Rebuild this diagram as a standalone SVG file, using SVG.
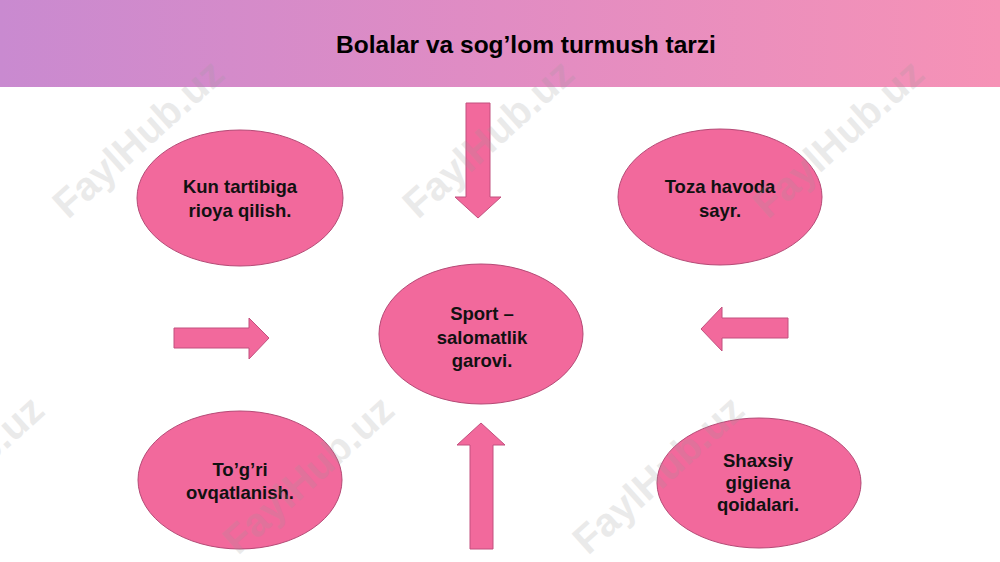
<svg xmlns="http://www.w3.org/2000/svg" width="1000" height="562" viewBox="0 0 1000 562">
  <defs>
    <linearGradient id="hdr" x1="0" y1="0" x2="1" y2="0">
      <stop offset="0" stop-color="#c98ad0"/>
      <stop offset="0.5" stop-color="#e18cc3"/>
      <stop offset="1" stop-color="#f692b6"/>
    </linearGradient>
  </defs>
  <style>
    .node { fill: #f2699c; stroke: #b54a76; stroke-width: 1; }
    .arrow { fill: #f2699c; stroke: #c2507e; stroke-width: 1; }
    .lbl { font-family: "Liberation Sans", Arial, sans-serif; font-weight: bold; font-size: 18.5px; fill: #111; text-anchor: middle; }
    .title { font-family: "Liberation Sans", Arial, sans-serif; font-weight: bold; font-size: 24.5px; fill: #000; text-anchor: middle; }
    .wm { font-family: "Liberation Sans", Arial, sans-serif; font-weight: bold; font-size: 40px; fill: #9a9a9a; opacity: 0.2; }
  </style>
  <rect x="0" y="0" width="1000" height="562" fill="#ffffff"/>
  <g id="header">
    <rect x="0" y="0" width="1000" height="87" fill="url(#hdr)"/>
    <text class="title" x="526" y="53">Bolalar va sog’lom turmush tarzi</text>
  </g>

  <g id="connectors">
    <path class="arrow" d="M466,103 L490,103 L490,197 L501,197 L478,218 L455,197 L466,197 Z"/>
    <path class="arrow" d="M470,549 L493,549 L493,445 L505,445 L481,423 L457,445 L470,445 Z"/>
    <path class="arrow" d="M174,328 L249,328 L249,318 L269,338 L249,359 L249,348 L174,348 Z"/>
    <path class="arrow" d="M788,318 L722,318 L722,307 L701,329 L722,351 L722,338 L788,338 Z"/>
  </g>

  <g id="node-kun">
    <ellipse class="node" cx="240" cy="198" rx="103" ry="68"/>
    <text class="lbl" x="240" y="193">Kun tartibiga</text>
    <text class="lbl" x="240" y="217">rioya qilish.</text>
  </g>
  <g id="node-toza">
    <ellipse class="node" cx="720" cy="197" rx="102" ry="68"/>
    <text class="lbl" x="720" y="193">Toza havoda</text>
    <text class="lbl" x="720" y="217">sayr.</text>
  </g>
  <g id="node-sport">
    <ellipse class="node" cx="481" cy="334" rx="102" ry="70"/>
    <text class="lbl" x="482" y="320">Sport –</text>
    <text class="lbl" x="482" y="344">salomatlik</text>
    <text class="lbl" x="482" y="367">garovi.</text>
  </g>
  <g id="node-togri">
    <ellipse class="node" cx="240" cy="480" rx="102" ry="69"/>
    <text class="lbl" x="240" y="476">To’g’ri</text>
    <text class="lbl" x="240" y="499">ovqatlanish.</text>
  </g>
  <g id="node-shaxsiy">
    <ellipse class="node" cx="759" cy="483" rx="102" ry="65"/>
    <text class="lbl" x="758" y="467">Shaxsiy</text>
    <text class="lbl" x="758" y="489">gigiena</text>
    <text class="lbl" x="758" y="511">qoidalari.</text>
  </g>

  <g id="watermarks">
    <text class="wm" transform="translate(68,220) rotate(-42)">FaylHub.uz</text>
    <text class="wm" transform="translate(418,220) rotate(-42)">FaylHub.uz</text>
    <text class="wm" transform="translate(768,220) rotate(-42)">FaylHub.uz</text>
    <text class="wm" transform="translate(-112,556) rotate(-42)">FaylHub.uz</text>
    <text class="wm" transform="translate(238,556) rotate(-42)">FaylHub.uz</text>
    <text class="wm" transform="translate(588,556) rotate(-42)">FaylHub.uz</text>
  </g>
</svg>
